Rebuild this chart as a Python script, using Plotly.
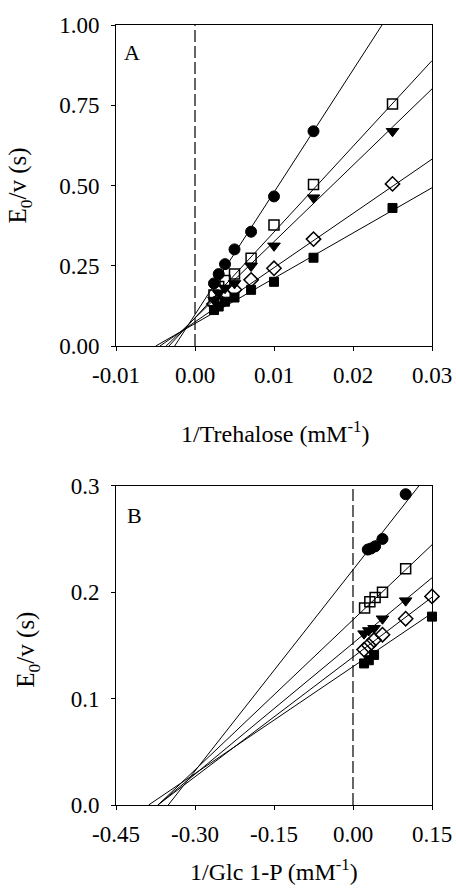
import plotly.graph_objects as go

# ---------------- Panel A data (1/Trehalose, mM^-1) ----------------
xa_circle = [0.0024, 0.003, 0.0038, 0.005, 0.0071, 0.01, 0.015]
ya_circle = [0.195, 0.224, 0.255, 0.301, 0.356, 0.466, 0.669]
xa_osq = [0.0024, 0.003, 0.0038, 0.005, 0.0071, 0.01, 0.015, 0.025]
ya_osq = [0.159, 0.185, 0.204, 0.224, 0.273, 0.377, 0.503, 0.754]
xa_tri = [0.0024, 0.003, 0.0038, 0.005, 0.0071, 0.01, 0.015, 0.025]
ya_tri = [0.143, 0.164, 0.180, 0.195, 0.249, 0.312, 0.462, 0.669]
xa_dia = [0.0024, 0.003, 0.0038, 0.005, 0.0071, 0.01, 0.015, 0.025]
ya_dia = [0.131, 0.143, 0.159, 0.175, 0.206, 0.242, 0.333, 0.505]
xa_fsq = [0.0024, 0.003, 0.0038, 0.005, 0.0071, 0.01, 0.015, 0.025]
ya_fsq = [0.112, 0.123, 0.138, 0.151, 0.175, 0.200, 0.275, 0.430]
# fitted lines: intercepts and slopes (circle, open sq, triangle, diamond, filled sq)
a_intercepts = [0.098, 0.088, 0.087, 0.075, 0.070]
a_slopes = [38.1, 26.7, 23.8, 16.9, 14.1]
a_xmax = 0.03

# ---------------- Panel B data (1/Glc 1-P, mM^-1) ----------------
xb_circle = [0.028, 0.034, 0.042, 0.056, 0.1]
yb_circle = [0.240, 0.241, 0.243, 0.250, 0.292]
xb_osq = [0.022, 0.032, 0.042, 0.056, 0.1]
yb_osq = [0.185, 0.191, 0.195, 0.200, 0.222]
xb_tri = [0.021, 0.030, 0.040, 0.056, 0.1]
yb_tri = [0.161, 0.164, 0.166, 0.175, 0.192]
xb_dia = [0.021, 0.030, 0.040, 0.056, 0.1, 0.15]
yb_dia = [0.146, 0.150, 0.155, 0.160, 0.175, 0.196]
xb_fsq = [0.021, 0.030, 0.040, 0.15]
yb_fsq = [0.133, 0.136, 0.141, 0.177]
b_intercepts = [0.221, 0.174, 0.152, 0.139, 0.130]
b_slopes = [0.63, 0.47, 0.41, 0.375, 0.335]
b_xmax = 0.15

# ticks
a_xticks = [-0.01, 0.0, 0.01, 0.02, 0.03]
a_xticktext = ["-0.01", "0.00", "0.01", "0.02", "0.03"]
a_yticks = [0.0, 0.25, 0.5, 0.75, 1.0]
a_yticktext = ["0.00", "0.25", "0.50", "0.75", "1.00"]
b_xticks = [-0.45, -0.30, -0.15, 0.0, 0.15]
b_xticktext = ["-0.45", "-0.30", "-0.15", "0.00", "0.15"]
b_yticks = [0.0, 0.1, 0.2, 0.3]
b_yticktext = ["0.0", "0.1", "0.2", "0.3"]

FONT = "Liberation Serif, Times New Roman, serif"

markers = [
    dict(symbol="circle", size=11, color="black", line=dict(color="black", width=1)),
    dict(symbol="square-open", size=10, color="black", line=dict(color="black", width=1.5)),
    dict(symbol="triangle-down", size=11, color="black", line=dict(color="black", width=1)),
    dict(symbol="diamond-open", size=11, color="black", line=dict(color="black", width=1.5)),
    dict(symbol="square", size=9, color="black", line=dict(color="black", width=1)),
]

fig = go.Figure()

def add_panel(series, intercepts, slopes, xmax, xa, ya):
    for b, m in zip(intercepts, slopes):
        x0 = -b / m
        fig.add_trace(go.Scatter(x=[x0, xmax], y=[b + m * x0, b + m * xmax], mode="lines",
                                 line=dict(color="black", width=1), xaxis=xa, yaxis=ya,
                                 showlegend=False, hoverinfo="skip"))
    for (xs, ys), mk in zip(series, markers):
        fig.add_trace(go.Scatter(x=xs, y=ys, mode="markers", marker=mk,
                                 xaxis=xa, yaxis=ya, showlegend=False, cliponaxis=False))

add_panel([(xa_circle, ya_circle), (xa_osq, ya_osq), (xa_tri, ya_tri), (xa_dia, ya_dia), (xa_fsq, ya_fsq)],
          a_intercepts, a_slopes, a_xmax, "x", "y")
add_panel([(xb_circle, yb_circle), (xb_osq, yb_osq), (xb_tri, yb_tri), (xb_dia, yb_dia), (xb_fsq, yb_fsq)],
          b_intercepts, b_slopes, b_xmax, "x2", "y2")

W, H = 456, 892
ml, mr, mt, mb = 116, 24, 25, 87
ph = H - mt - mb
axis_common = dict(showgrid=False, zeroline=False, showline=True, linecolor="black", linewidth=1,
                   mirror=True, ticks="outside", ticklen=4, tickwidth=1, tickcolor="black",
                   tickfont=dict(family=FONT, size=23, color="black"), automargin=False,
                   ticklabeloverflow="allow")

fig.update_layout(
    width=W, height=H, margin=dict(l=ml, r=mr, t=mt, b=mb),
    paper_bgcolor="white", plot_bgcolor="white",
    font=dict(family=FONT, size=23, color="black"),
    xaxis=dict(axis_common, domain=[0, 1], anchor="y", range=[-0.01, 0.03],
               tickvals=a_xticks, ticktext=a_xticktext, ticklabelstandoff=4),
    yaxis=dict(axis_common, domain=[1 - 321 / ph, 1], anchor="x", range=[0, 1.0],
               tickvals=a_yticks, ticktext=a_yticktext, ticklabelstandoff=7),
    xaxis2=dict(axis_common, domain=[0, 1], anchor="y2", range=[-0.45, 0.15],
                tickvals=b_xticks, ticktext=b_xticktext, ticklabelstandoff=4),
    yaxis2=dict(axis_common, domain=[0, (805 - 485.7) / ph], anchor="x2", range=[0, 0.3],
                tickvals=b_yticks, ticktext=b_yticktext, ticklabelstandoff=7),
    shapes=[
        dict(type="line", xref="x", yref="y domain", x0=0, x1=0, y0=0, y1=1,
             line=dict(color="black", width=1.2, dash="12px,4px")),
        dict(type="line", xref="x2", yref="y2 domain", x0=0, x1=0, y0=0, y1=1,
             line=dict(color="black", width=1.2, dash="12px,4px")),
    ],
    annotations=[
        dict(text="A", xref="x domain", yref="y domain", x=0.018, y=0.96, xanchor="left", yanchor="top",
             showarrow=False, font=dict(family=FONT, size=22, color="black")),
        dict(text="B", xref="x2 domain", yref="y2 domain", x=0.028, y=0.953, xanchor="left", yanchor="top",
             showarrow=False, font=dict(family=FONT, size=22, color="black")),
        # axis titles
        dict(text="1/Trehalose (mM<sup>-1</sup>)", xref="x domain", yref="y domain", x=0.503, y=-0.268,
             xanchor="center", yanchor="middle", showarrow=False, font=dict(family=FONT, size=24, color="black")),
        dict(text="E<sub>0</sub>/v (s)", xref="x domain", yref="y domain", x=-0.304, y=0.5,
             xanchor="center", yanchor="middle", textangle=-90, showarrow=False,
             font=dict(family=FONT, size=25, color="black")),
        dict(text="1/Glc 1-P (mM<sup>-1</sup>)", xref="x2 domain", yref="y2 domain", x=0.5, y=-0.205,
             xanchor="center", yanchor="middle", showarrow=False, font=dict(family=FONT, size=24, color="black")),
        dict(text="E<sub>0</sub>/v (s)", xref="x2 domain", yref="y2 domain", x=-0.28, y=0.485,
             xanchor="center", yanchor="middle", textangle=-90, showarrow=False,
             font=dict(family=FONT, size=25, color="black")),
    ],
)

fig.write_html("out.html", config={"displayModeBar": False},
               post_script="document.body.style.margin='0';document.body.style.overflow='hidden';"
                           "document.documentElement.style.overflow='hidden';")
